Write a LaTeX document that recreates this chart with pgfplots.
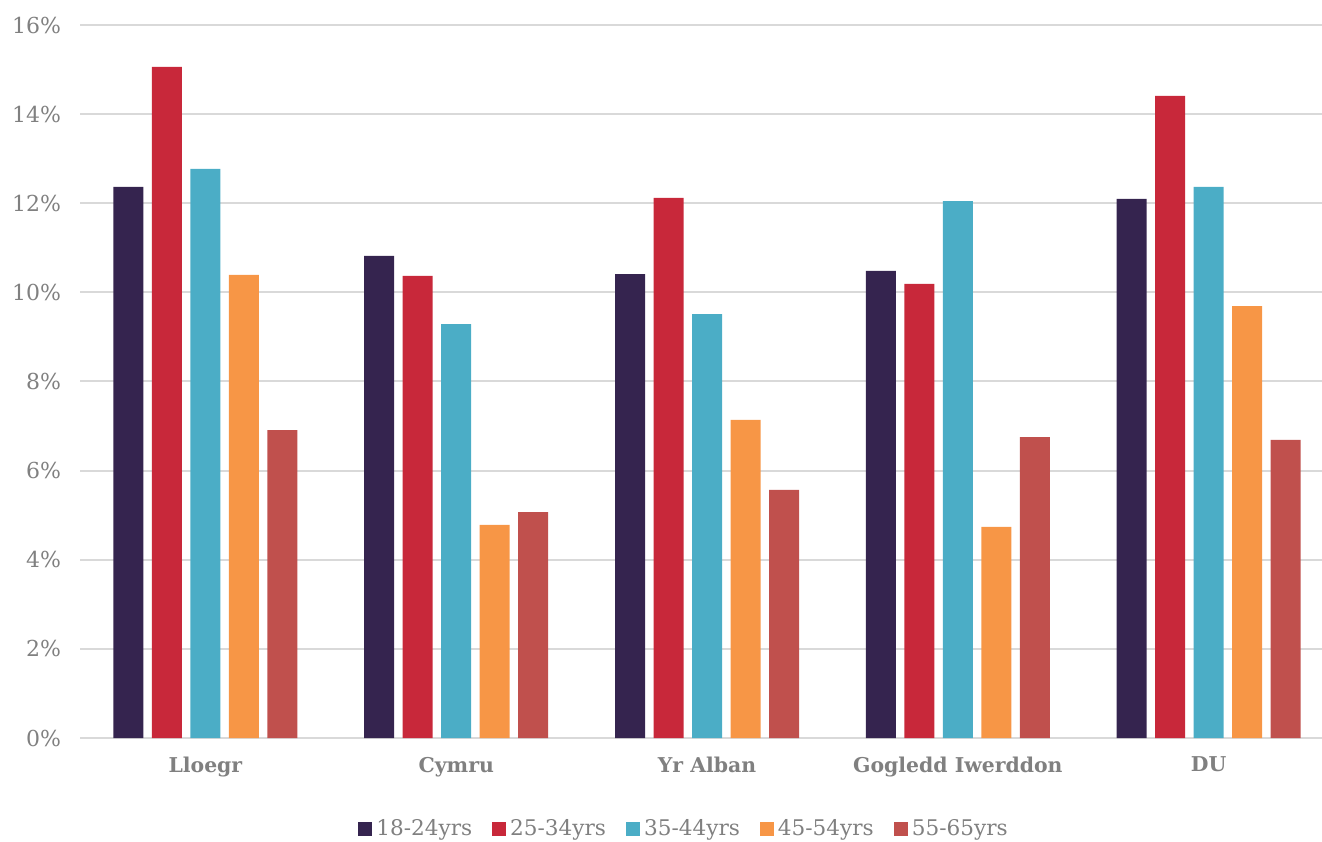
\documentclass[border=0pt]{standalone}
\usepackage{pgfplots}
\pgfplotsset{compat=1.18}
\usepackage{fontspec}
\setmainfont{DejaVu Serif}
\definecolor{cA}{HTML}{35244F}
\definecolor{cB}{HTML}{C8283A}
\definecolor{cC}{HTML}{4BADC6}
\definecolor{cD}{HTML}{F79646}
\definecolor{cE}{HTML}{C0504D}
\definecolor{txt}{HTML}{808080}
\definecolor{grd}{HTML}{D9D9D9}
\pgfplotstableread{
x a b c d e
0 12.37 15.06 12.77 10.39 6.91
1 10.82 10.37 9.29 4.78 5.07
2 10.41 12.12 9.51 7.14 5.57
3 10.48 10.19 12.05 4.74 6.75
4 12.10 14.41 12.37 9.69 6.69
}\datatable
\begin{document}
\begin{tikzpicture}
\useasboundingbox (0,0) rectangle (661pt,420.5pt);
\begin{axis}[
  at={(40pt,51.5pt)}, anchor=south west,
  scale only axis, width=621pt, height=356.5pt,
  ybar=4.25pt, bar width=15pt,
  xmin=-0.5, xmax=4.452, ymin=0, ymax=16,
  xtick=data,
  xticklabels={Lloegr,Cymru,Yr Alban,Gogledd Iwerddon,DU},
  ytick={0,2,...,16},
  yticklabel={\pgfmathprintnumber{\tick}\%},
  /pgf/number format/assume math mode=true,
  axis line style={draw=none},
  major tick length=0pt,
  ymajorgrids, grid style={grd, line width=1pt},
  yticklabel style={text=txt, font=\fontsize{11}{12}\selectfont, xshift=-6pt},
  xticklabel style={text=txt, font=\bfseries\fontsize{10.2}{12}\selectfont, yshift=-6pt},
  legend columns=-1,
  legend style={draw=none, at={(0.5,0)}, anchor=center, yshift=-45.5pt, xshift=-8pt,
    font=\fontsize{10.8}{12}\selectfont, text=txt,
    /tikz/every even column/.append style={column sep=8pt}},
  legend image code/.code={\fill[#1] (0pt,-3.5pt) rectangle (7pt,3.5pt);},
]
\addplot[fill=cA, draw=none] table[x=x,y=a]{\datatable};
\addplot[fill=cB, draw=none] table[x=x,y=b]{\datatable};
\addplot[fill=cC, draw=none] table[x=x,y=c]{\datatable};
\addplot[fill=cD, draw=none] table[x=x,y=d]{\datatable};
\addplot[fill=cE, draw=none] table[x=x,y=e]{\datatable};
\legend{18-24yrs,25-34yrs,35-44yrs,45-54yrs,55-65yrs}
\end{axis}
\end{tikzpicture}
\end{document}
